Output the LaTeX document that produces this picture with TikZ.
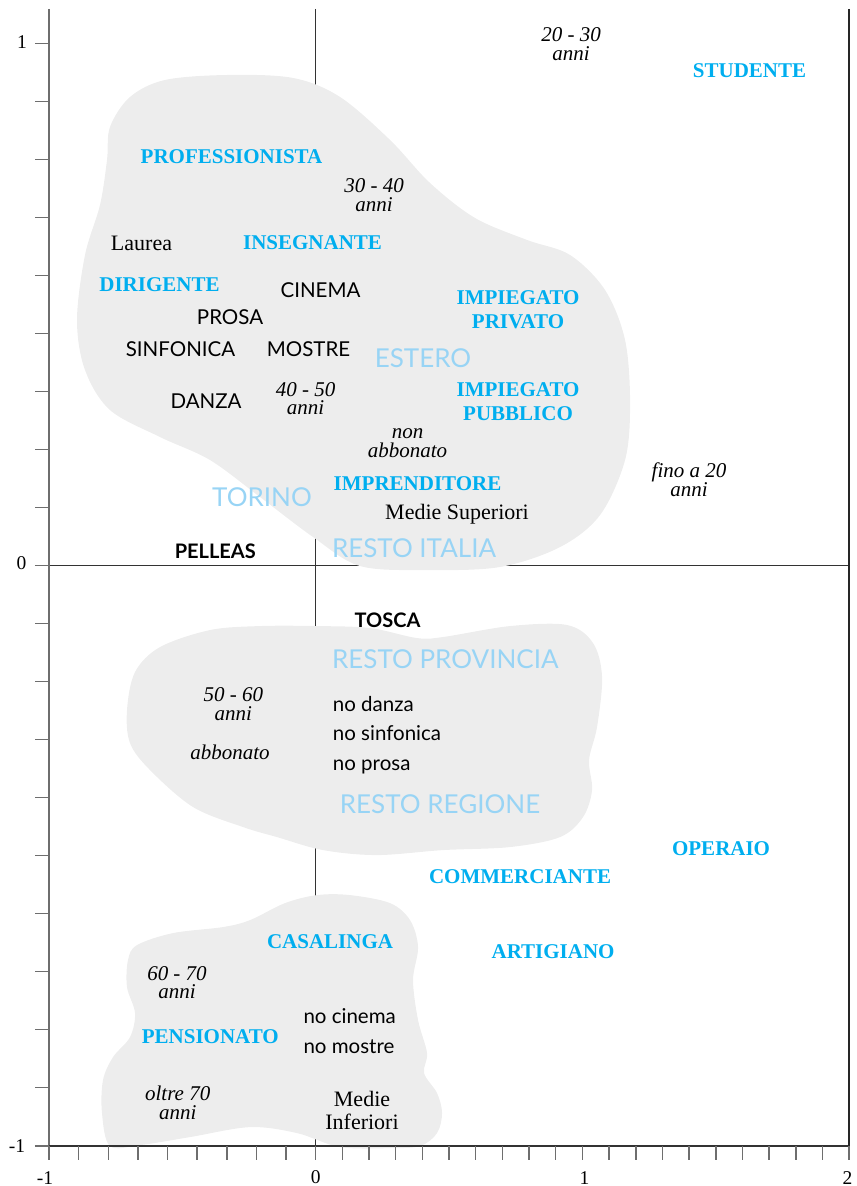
\documentclass[tikz,border=0pt]{standalone}
\usepackage{fontspec}
\setmainfont{Liberation Serif}
\newfontfamily\latofont{Lato}
\usepackage{tikz}
\usetikzlibrary{positioning}
\definecolor{jobblue}{RGB}{0,174,239}
\definecolor{placeblue}{RGB}{152,212,245}
\definecolor{blobgray}{RGB}{237,237,237}
\definecolor{axisgray}{RGB}{110,110,110}

\begin{document}
\begin{tikzpicture}[x=266.7pt,y=580pt,
    job/.style={font=\fontsize{21}{24}\selectfont\bfseries, text=jobblue, align=center, inner sep=0pt},
    age/.style={font=\fontsize{21}{18.5}\selectfont\itshape, align=center, inner sep=0pt},
    titolo/.style={font=\fontsize{22}{23}\selectfont, align=center, inner sep=0pt},
    activity/.style={font=\latofont\fontsize{20.5}{24}\selectfont, inner sep=0pt},
    place/.style={font=\latofont\fontsize{26}{30}\selectfont, text=placeblue, inner sep=0pt},
    opera/.style={font=\latofont\bfseries\fontsize{20}{24}\selectfont, inner sep=0pt},
    blob/.style={fill=blobgray, draw=none},
    tickmark/.style={axisgray, line width=1.4pt},
    ticknum/.style={font=\fontsize{19.5}{22}\selectfont, inner sep=0pt}]
  \useasboundingbox (-1.1837,-1.0693) rectangle (2.0259,0.9753);

  % zero lines
  \draw[line width=1.2pt, black!80] (-1.0525,0) -- (2,0);
  \draw[line width=1.2pt, black!80] (0,0.96) -- (0,-1);

  % clusters
  \fill[blob] plot[smooth cycle, tension=0.55] coordinates {
    (-0.7825,0.6995) (-0.7713,0.7564) (-0.6963,0.8081) (-0.5651,0.8374)
    (-0.3326,0.8460) (-0.0851,0.8409) (0.0911,0.8081) (0.2786,0.7340)
    (0.4286,0.6598) (0.5973,0.5995) (0.7923,0.5616) (0.9535,0.5357)
    (1.0847,0.4753) (1.1597,0.3891) (1.1785,0.2805) (1.1597,0.1822)
    (1.0660,0.0874) (0.9160,0.0322) (0.6910,-0.0022) (0.4173,-0.0074)
    (0.1661,-0.0005) (-0.0101,0.0495) (-0.2088,0.1184) (-0.3963,0.1822)
    (-0.5838,0.2219) (-0.7713,0.2684) (-0.8650,0.3374) (-0.8950,0.4236)
    (-0.8650,0.5357) (-0.8088,0.6219)};
  \fill[blob] plot[smooth cycle, tension=0.55] coordinates {
    (-0.7075,-0.2488) (-0.6775,-0.1833) (-0.5838,-0.1402) (-0.3963,-0.1109)
    (-0.2088,-0.1040) (0.0049,-0.1040) (0.2036,-0.1074) (0.3798,-0.1247)
    (0.4773,-0.1229) (0.7285,-0.1040) (0.9423,-0.1022) (1.0397,-0.1333)
    (1.0735,-0.1919) (1.0547,-0.2781) (1.0247,-0.3350) (1.0360,-0.3867)
    (1.0022,-0.4333) (0.9160,-0.4678) (0.7285,-0.4850) (0.4773,-0.4902)
    (0.2298,-0.4988) (0.0274,-0.4902) (-0.1451,-0.4678) (-0.2726,-0.4505)
    (-0.4601,-0.4160) (-0.6213,-0.3522) (-0.6963,-0.3057)};
  \fill[blob] plot[smooth cycle, tension=0.55] coordinates {
    (0.0049,-0.5678) (0.1286,-0.5678) (0.2786,-0.5816) (0.3536,-0.6109)
    (0.3836,-0.6574) (0.3648,-0.7143) (0.3836,-0.7833) (0.4173,-0.8402)
    (0.4061,-0.8747) (0.4548,-0.9091) (0.4736,-0.9436) (0.4548,-0.9781)
    (0.3911,-1.0005) (0.2786,-1.0040) (0.0911,-1.0022) (-0.0701,-0.9781)
    (-0.2463,-0.9678) (-0.4713,-0.9850) (-0.6588,-0.9988) (-0.7713,-1.0005)
    (-0.8013,-0.9436) (-0.7975,-0.8867) (-0.7600,-0.8471) (-0.6963,-0.8126)
    (-0.6775,-0.7712) (-0.7075,-0.7264) (-0.7038,-0.6798) (-0.6700,-0.6540)
    (-0.5351,-0.6333) (-0.3476,-0.6229) (-0.2463,-0.6109) (-0.1151,-0.5816)};

  % frame and ticks
  \draw[axisgray, line width=2pt] (-1,0.96) -- (-1,-1);
  \draw[line width=1.5pt, black!80] (-1.0525,-1) -- (2,-1);
  \draw[line width=1.8pt, black!85] (2,0.96) -- (2,-1);
  \foreach \t in {-10,...,9}
    \draw[tickmark] (-1,\t/10) -- ++(-0.0525,0);
  \foreach \k in {0,...,8}
    \draw[tickmark] ({-1+\k/9},-1) -- ++(0,-0.0247);
  \foreach \t in {0,...,20}
    \draw[tickmark] (\t/10,-1) -- ++(0,-0.0247);

  \node[ticknum] (ylab1) at (-1.1012,0.9026) {1};
  \node[ticknum] (ylab0) at (-1.1031,0.0038) {0};
  \node[ticknum] (ylabm1) at (-1.1200,-1.0005) {-1};
  \node[ticknum] (xlabm1) at (-1.0150,-1.0548) {-1};
  \node[ticknum] (xlab0) at (0,-1.0548) {0};
  \node[ticknum] (xlab1) at (1.008,-1.0548) {1};
  \node[ticknum] (xlab2) at (1.994,-1.0548) {2};

  % professions
  \node[job] (studente) at (1.6265,0.8529) {STUDENTE};
  \node[job] (professionista) at (-0.3157,0.7047) {PROFESSIONISTA};
  \node[job] (insegnante) at (-0.0120,0.5564) {INSEGNANTE};
  \node[job] (dirigente) at (-0.5857,0.4840) {DIRIGENTE};
  \node[job] (imprivato) at (0.7585,0.4417) {IMPIEGATO\\PRIVATO};
  \node[job] (impubblico) at (0.7585,0.2828) {IMPIEGATO\\PUBBLICO};
  \node[job] (imprenditore) at (0.3817,0.1409) {IMPRENDITORE};
  \node[job] (operaio) at (1.5197,-0.4872) {OPERAIO};
  \node[job] (commerciante) at (0.7660,-0.5367) {COMMERCIANTE};
  \node[job] (artigiano) at (0.8898,-0.6655) {ARTIGIANO};
  \node[job] (casalinga) at (0.0536,-0.6483) {CASALINGA};
  \node[job] (pensionato) at (-0.3952,-0.8121) {PENSIONATO};

  % ages and subscription
  \node[age] (a2030) at (0.9573,0.8995) {20 - 30\\anni};
  \node[age] (a3040) at (0.2186,0.6391) {30 - 40\\anni};
  \node[age] (a4050) at (-0.0382,0.2883) {40 - 50\\anni};
  \node[age] (nonabb) at (0.3442,0.2116) {non\\abbonato};
  \node[age] (fino20) at (1.3997,0.1483) {fino a 20\\anni};
  \node[age] (a5060) at (-0.3090,-0.2384) {50 - 60\\anni};
  \node[age] (abbonato) at (-0.3213,-0.3217) {abbonato};
  \node[age] (a6070) at (-0.5201,-0.7186) {60 - 70\\anni};
  \node[age] (oltre70) at (-0.5174,-0.9255) {oltre 70\\anni};

  % schooling
  \node[titolo] (laurea) at (-0.6532,0.5564) {Laurea};
  \node[titolo] (superiori) at (0.5298,0.0891) {Medie Superiori};
  \node[titolo] (inferiori) at (0.1736,-0.9397) {Medie\\Inferiori};

  % activities
  \node[activity] (cinema) at (0.0180,0.4753) {CINEMA};
  \node[activity] (prosa) at (-0.3213,0.4293) {PROSA};
  \node[activity] (sinfonica) at (-0.5069,0.3731) {SINFONICA};
  \node[activity] (mostre) at (-0.0270,0.3731) {MOSTRE};
  \node[activity] (danza) at (-0.4113,0.2845) {DANZA};
  \node[activity, anchor=base west] (nodanza) at (0.0637,-0.2505) {no danza};
  \node[activity, anchor=base west] (nosinfonica) at ([yshift=-29.5pt]nodanza.base west) {no sinfonica};
  \node[activity, anchor=base west] (noprosa) at ([yshift=-29.5pt]nosinfonica.base west) {no prosa};
  \node[activity, anchor=base west] (nocinema) at (-0.0465,-0.7890) {no cinema};
  \node[activity, anchor=base west] (nomostre) at ([yshift=-30pt]nocinema.base west) {no mostre};

  % residence
  \node[place] (estero) at (0.4023,0.3581) {ESTERO};
  \node[place] (torino) at (-0.2013,0.1179) {TORINO};
  \node[place] (restoitalia) at (0.3686,0.0305) {RESTO ITALIA};
  \node[place] (restoprovincia) at (0.4859,-0.1609) {RESTO PROVINCIA};
  \node[place] (restoregione) at (0.4661,-0.4109) {RESTO REGIONE};

  % operas
  \node[opera] (pelleas) at (-0.3765,0.0241) {PELLEAS};
  \node[opera] (tosca) at (0.2692,-0.0936) {TOSCA};
\end{tikzpicture}
\end{document}
